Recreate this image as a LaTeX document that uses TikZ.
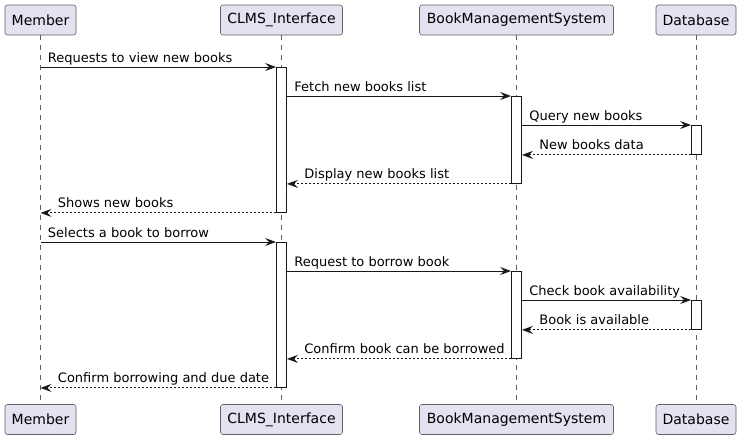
\documentclass[tikz,border=0pt]{standalone}
\usepackage{fontspec}
\setmainfont{DejaVu Sans}
\usetikzlibrary{arrows.meta,positioning}
\definecolor{umlfill}{HTML}{E2E2F0}
\definecolor{umlline}{HTML}{181818}
\definecolor{umlbox}{HTML}{606068}

\begin{document}
\begin{tikzpicture}[
                x=1pt, y=-1pt,
                participant/.style={draw=umlbox, line width=0.6pt, fill=umlfill, rounded corners=2.5pt, minimum height=30pt, inner sep=0pt, font=\fontsize{14}{16}\selectfont},
                lifeline/.style={draw=umlbox, line width=0.5pt, dash pattern=on 5pt off 5pt},
                act/.style={draw=umlline, line width=0.9pt, fill=white, minimum width=10pt, inner sep=0pt, anchor=north},
                msg/.style={draw=umlline, line width=0.9pt, -{Stealth[length=11pt, width=8pt, inset=4pt]}},
                reply/.style={msg, dash pattern=on 2pt off 2pt},
                lblR/.style={anchor=base west, inner sep=0pt, xshift=7pt, yshift=5pt, font=\fontsize{13}{15}\selectfont},
                lblL/.style={anchor=base west, inner sep=0pt, xshift=17pt, yshift=5pt, font=\fontsize{13}{15}\selectfont}
            ]
            \useasboundingbox (0,0) rectangle (741,440);

            % participants, top and bottom
            \node[participant, minimum width=71pt] (pM) at (40.5,20) {Member};
            \node[participant, minimum width=122pt] (pC) at (281.5,20) {CLMS\_Interface};
            \node[participant, minimum width=194pt] (pB) at (516.5,20) {BookManagementSystem};
            \node[participant, minimum width=80pt] (pD) at (696,20) {Database};
            \node[participant, minimum width=71pt] (qM) at (40.5,419.5) {Member};
            \node[participant, minimum width=122pt] (qC) at (281.5,419.5) {CLMS\_Interface};
            \node[participant, minimum width=194pt] (qB) at (516.5,419.5) {BookManagementSystem};
            \node[participant, minimum width=80pt] (qD) at (696,419.5) {Database};

            \draw[lifeline] (pM) -- (qM);
            \draw[lifeline] (pC) -- (qC);
            \draw[lifeline] (pB) -- (qB);
            \draw[lifeline] (pD) -- (qD);

            % activations
            \node[act, minimum height=145pt] (actC1) at (281.5,67) {};
            \node[act, minimum height=87pt] (actB1) at (516.5,96) {};
            \node[act, minimum height=29pt] (actD1) at (696.5,125) {};
            \node[act, minimum height=145pt] (actC2) at (281.5,242) {};
            \node[act, minimum height=87pt] (actB2) at (516.5,271) {};
            \node[act, minimum height=29pt] (actD2) at (696.5,300) {};

            % view new books
            \draw[msg] (pM.south |- actC1.north) -- (actC1.north west) node[lblR, pos=0] (l1) {Requests to view new books};
            \draw[msg] (actC1.east |- actB1.north) -- (actB1.north west) node[lblR, pos=0] (l2) {Fetch new books list};
            \draw[msg] (actB1.east |- actD1.north) -- (actD1.north west) node[lblR, pos=0] (l3) {Query new books};
            \draw[reply] (actD1.south west) -- (actB1.east |- actD1.south) node[lblL, pos=1] (l4) {New books data};
            \draw[reply] (actB1.south west) -- (actC1.east |- actB1.south) node[lblL, pos=1] (l5) {Display new books list};
            \draw[reply] (actC1.south west) -- (pM.south |- actC1.south) node[lblL, pos=1] (l6) {Shows new books};

            % borrow a book
            \draw[msg] (pM.south |- actC2.north) -- (actC2.north west) node[lblR, pos=0] (l7) {Selects a book to borrow};
            \draw[msg] (actC2.east |- actB2.north) -- (actB2.north west) node[lblR, pos=0] (l8) {Request to borrow book};
            \draw[msg] (actB2.east |- actD2.north) -- (actD2.north west) node[lblR, pos=0] (l9) {Check book availability};
            \draw[reply] (actD2.south west) -- (actB2.east |- actD2.south) node[lblL, pos=1] (l10) {Book is available};
            \draw[reply] (actB2.south west) -- (actC2.east |- actB2.south) node[lblL, pos=1] (l11) {Confirm book can be borrowed};
            \draw[reply] (actC2.south west) -- (pM.south |- actC2.south) node[lblL, pos=1] (l12) {Confirm borrowing and due date};

        \end{tikzpicture}
\end{document}
